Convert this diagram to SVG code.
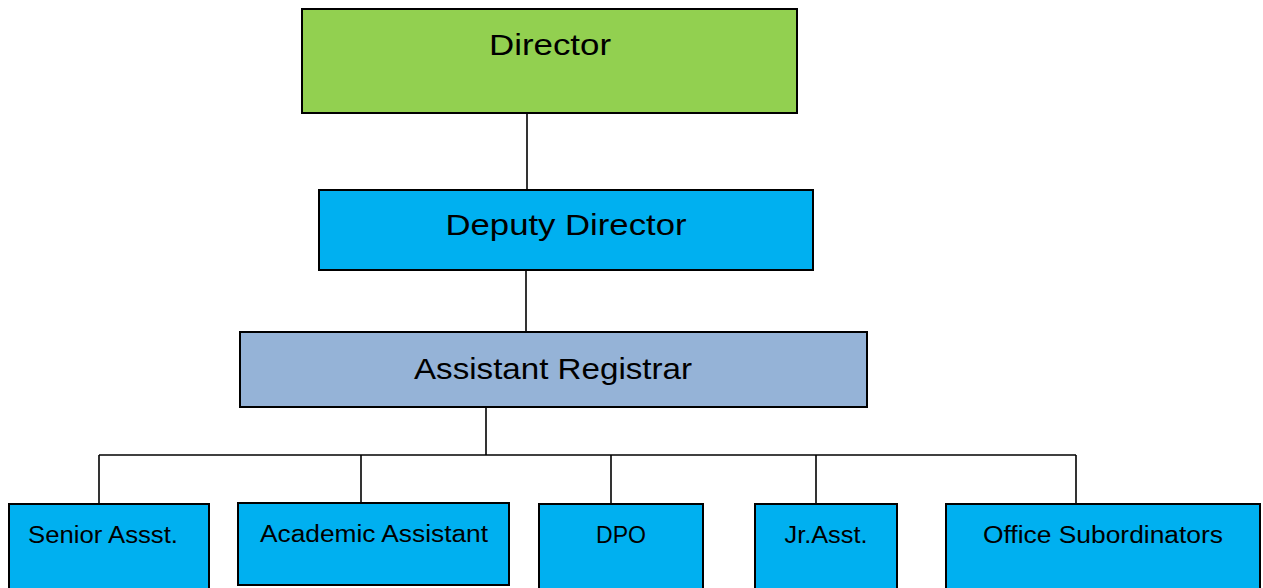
<svg xmlns="http://www.w3.org/2000/svg" width="1263" height="588" viewBox="0 0 1263 588">
<style>
.box{stroke:#000;stroke-width:2}
.green{fill:#92D050}
.blue{fill:#00B0F0}
.steel{fill:#95B3D7}
.big{font-family:"Liberation Sans",Arial,sans-serif;font-size:30px;fill:#000}
.small{font-family:"Liberation Sans",Arial,sans-serif;font-size:23px;fill:#000}
.conn{stroke:#000;stroke-width:1.6;fill:none}
</style>
<rect width="1263" height="588" fill="#fff"/>
<g id="connectors">
<line class="conn" x1="527" y1="113" x2="527" y2="190"/>
<line class="conn" x1="526" y1="270" x2="526" y2="332"/>
<line class="conn" x1="486" y1="407" x2="486" y2="455"/>
<line class="conn" x1="99" y1="455" x2="1076" y2="455"/>
<line class="conn" x1="99" y1="455" x2="99" y2="504"/>
<line class="conn" x1="361" y1="455" x2="361" y2="503"/>
<line class="conn" x1="611" y1="455" x2="611" y2="504"/>
<line class="conn" x1="816" y1="455" x2="816" y2="504"/>
<line class="conn" x1="1076" y1="455" x2="1076" y2="504"/>
</g>
<g id="director">
<rect class="box green" x="302" y="9" width="495" height="104"/>
<text class="big" x="550" y="55" text-anchor="middle" textLength="122" lengthAdjust="spacingAndGlyphs">Director</text>
</g>
<g id="deputy-director">
<rect class="box blue" x="319" y="190" width="494" height="80"/>
<text class="big" x="566" y="235" text-anchor="middle" textLength="241" lengthAdjust="spacingAndGlyphs">Deputy Director</text>
</g>
<g id="assistant-registrar">
<rect class="box steel" x="240" y="332" width="627" height="75"/>
<text class="big" x="553" y="379" text-anchor="middle" textLength="278" lengthAdjust="spacingAndGlyphs">Assistant Registrar</text>
</g>
<g id="senior-assst">
<rect class="box blue" x="9" y="504" width="200" height="90"/>
<text class="small" x="103" y="543" text-anchor="middle" textLength="150" lengthAdjust="spacingAndGlyphs">Senior Assst.</text>
</g>
<g id="academic-assistant">
<rect class="box blue" x="238" y="503" width="271" height="82"/>
<text class="small" x="374" y="542" text-anchor="middle" textLength="228" lengthAdjust="spacingAndGlyphs">Academic Assistant</text>
</g>
<g id="dpo">
<rect class="box blue" x="539" y="504" width="164" height="90"/>
<text class="small" x="621" y="543" text-anchor="middle" textLength="50" lengthAdjust="spacingAndGlyphs">DPO</text>
</g>
<g id="jr-asst">
<rect class="box blue" x="755" y="504" width="142" height="90"/>
<text class="small" x="826" y="543" text-anchor="middle" textLength="83" lengthAdjust="spacingAndGlyphs">Jr.Asst.</text>
</g>
<g id="office-subordinators">
<rect class="box blue" x="946" y="504" width="314" height="90"/>
<text class="small" x="1103" y="543" text-anchor="middle" textLength="240" lengthAdjust="spacingAndGlyphs">Office Subordinators</text>
</g>
</svg>
